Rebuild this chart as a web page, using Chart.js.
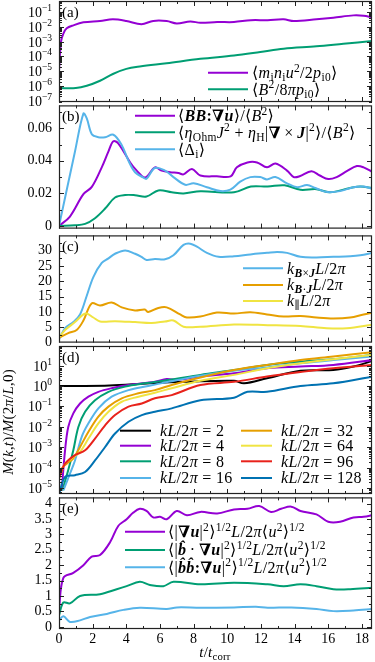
<!DOCTYPE html>
<html><head><meta charset="utf-8">
<script src="https://cdn.jsdelivr.net/npm/chart.js@4.4.1/dist/chart.umd.min.js"></script>
<style>
html,body{margin:0;padding:0;background:#fff}
#wrap{position:relative;width:375px;height:662px;overflow:hidden;background:#fff}
canvas{position:absolute;left:0}
</style>
</head><body><div id="wrap"></div>
<script>
// ================= DATA =================
const timeTicks = [0, 2, 4, 6, 8, 10, 12, 14, 16, 18];

// (a) energies
const kineticEnergy = [[0,1.1e-5],[0.12,1.0e-3],[0.26,3.5e-3],[0.46,7.9e-3],[0.85,1.26e-2],[1.45,2.0e-2],[2.44,2.5e-2],[3.2,3.2e-2],[4.0,2.5e-2],[4.9,1.5e-2],[5.6,2.5e-2],[6.4,2.45e-2],[7.0,1.7e-2],[7.8,2.3e-2],[8.4,1.86e-2],[9.4,2.1e-2],[10.4,2.1e-2],[11.4,2.8e-2],[12.4,2.8e-2],[13.35,3.2e-2],[13.95,2.45e-2],[15.3,3.2e-2],[16.3,4.1e-2],[17.5,5.9e-2],[18.1,5.6e-2],[18.6,4.4e-2]];
const magneticEnergy = [[0,7.4e-7],[1.0,7.4e-7],[1.65,1.05e-6],[2.44,2.3e-6],[3.2,6.6e-6],[4.0,1.45e-5],[4.8,2.1e-5],[6.4,3.5e-5],[8.4,6.9e-5],[10.4,1.17e-4],[11.96,2.0e-4],[13.35,3.3e-4],[15.3,4.8e-4],[16.9,7.2e-4],[18.6,1.1e-3]];

// (b) rates
const stretchingRate = [[0,0],[0.65,0.0058],[1.45,0.0195],[1.95,0.024],[2.54,0.036],[2.94,0.0458],[3.23,0.052],[3.53,0.0506],[4.23,0.039],[4.62,0.034],[5.12,0.0298],[5.7,0.036],[6.1,0.034],[6.6,0.033],[7.1,0.0325],[7.4,0.0317],[7.9,0.035],[8.4,0.031],[9.38,0.0305],[10.2,0.0305],[10.57,0.036],[11.2,0.039],[11.77,0.039],[12.36,0.036],[12.86,0.0383],[13.55,0.034],[13.95,0.030],[14.3,0.0305],[15.0,0.0336],[15.5,0.031],[16.0,0.0288],[16.5,0.030],[17.1,0.0336],[17.7,0.0368],[18.1,0.036],[18.65,0.033]];
const dissipationRate = [[0,0],[0.95,0.0004],[1.55,0.0013],[2.14,0.0048],[2.74,0.0107],[3.33,0.0175],[3.93,0.019],[4.52,0.0189],[5.2,0.0181],[5.9,0.0218],[6.7,0.0207],[7.4,0.020],[8.4,0.0213],[10.4,0.0207],[11.4,0.0242],[12.4,0.0242],[13.4,0.025],[14.35,0.0222],[15.3,0.0226],[16.1,0.0207],[17.3,0.0233],[17.9,0.0242],[18.65,0.0233]];
const anisotropy = [[0,0],[0.95,0.0457],[1.45,0.069],[1.65,0.066],[1.95,0.0563],[2.34,0.0545],[2.74,0.0545],[3.23,0.056],[3.73,0.0496],[4.13,0.040],[4.52,0.033],[5.0,0.0298],[5.2,0.029],[5.7,0.0356],[6.3,0.034],[6.8,0.030],[7.5,0.0253],[8.0,0.0262],[8.79,0.0238],[9.6,0.0214],[10.18,0.0223],[10.77,0.0272],[11.37,0.030],[11.96,0.030],[12.36,0.0286],[12.86,0.030],[13.55,0.0262],[14.15,0.0238],[14.74,0.0251],[15.24,0.0233],[15.93,0.0208],[16.7,0.0214],[17.5,0.0238],[18.1,0.0242],[18.65,0.0227]];

// (c) wavenumbers
const kBxJ = [[0,1.1],[0.36,4.7],[0.85,6.7],[1.25,9.2],[1.65,15.3],[2.04,21.4],[2.54,26],[2.94,27.5],[3.33,29],[3.93,30.1],[4.52,29],[4.9,28],[5.2,27],[5.7,27.3],[6.3,27.2],[6.8,28.5],[7.4,31.9],[7.8,32.3],[8.2,31.3],[8.79,29.3],[9.48,28],[10.4,28.2],[11.37,28.8],[12.36,29.3],[12.96,29.6],[13.55,29.3],[14.35,28],[15.3,27.8],[16.3,28],[17.3,28.2],[17.9,28.5],[18.65,29.3]];
const kBdotJ = [[0,1.6],[0.55,3.1],[1.05,4.1],[1.45,7.2],[1.94,12.8],[2.44,12.1],[3.13,13.1],[3.73,11.5],[4.52,10.5],[5.1,10.8],[5.3,10.0],[5.9,11.3],[6.4,11.5],[7.2,9.2],[7.6,8.2],[8.4,8.5],[9.38,9.8],[10.4,9.5],[11.37,9.9],[12.36,9.2],[13.35,8.5],[14.35,8.7],[15.3,8.2],[16.3,7.9],[17.3,8.2],[18.1,9.2],[18.65,9.8]];
const kParallel = [[0,1.6],[0.36,4.1],[0.95,6.7],[1.45,9.2],[1.65,9.5],[2.04,8.2],[2.44,6.9],[3.33,7.0],[4.52,6.7],[5.5,6.4],[6.3,6.9],[6.8,7.2],[7.4,5.2],[8.4,5.2],[10.4,5.9],[12.4,5.7],[14.35,5.4],[15.9,4.7],[17.1,4.7],[18.65,5.9]];

// (d) normalised magnetic spectrum at fixed k
const mk2 = [[0,1.0],[1,1.0],[3,1.05],[5.4,1.35],[7.6,1.6],[10.4,1.8],[11.0,1.35],[12.36,2.4],[14.35,5.5],[16.3,6.0],[17.5,8.9],[18.65,17]];
const mk4 = [[0.16,7.9e-6],[0.36,7.2e-4],[0.55,1.0e-2],[0.85,4.6e-2],[1.25,0.14],[1.75,0.30],[2.34,0.52],[3.13,0.78],[4.13,1.12],[5.7,1.6],[6.4,2.2],[7.0,2.0],[8.4,2.9],[10.4,4.2],[12.36,7.4],[14.35,8.9],[16.3,10.7],[18.65,18.6]];
const mk8 = [[0.2,7.9e-6],[0.55,7.9e-5],[0.85,7.2e-4],[1.15,1.0e-2],[1.55,5.5e-2],[2.14,0.20],[2.94,0.52],[3.93,0.93],[5.1,1.35],[6.5,1.95],[8.4,3.5],[10.4,6.0],[12.36,10.7],[14.35,15.5],[16.3,20.4],[18.65,33]];
const mk16 = [[0.26,7.9e-6],[0.65,5.2e-5],[0.95,2.3e-4],[1.35,3.3e-3],[1.75,1.5e-2],[2.34,8.1e-2],[3.13,0.30],[4.13,0.63],[5.3,1.0],[6.5,1.6],[8.4,3.2],[10.4,5.6],[12.36,8.1],[14.35,12.9],[16.3,18.6],[18.65,27.5]];
const mk32 = [[0,3e-5],[0.16,9.3e-5],[0.46,1.6e-4],[0.85,2.9e-4],[1.25,1.05e-3],[1.75,5.8e-3],[2.34,3.2e-2],[2.94,9.8e-2],[3.73,0.25],[4.72,0.44],[5.7,0.63],[6.7,1.12],[8.4,2.6],[10.4,6.0],[12.36,10.7],[14.35,18.6],[16.3,27.5],[18.65,45]];
const mk64 = [[0,3e-5],[0.1,5.2e-5],[0.36,1.6e-4],[0.75,2.9e-4],[1.25,6.0e-4],[1.75,2.7e-3],[2.34,1.5e-2],[2.94,5.5e-2],[3.73,0.17],[4.72,0.30],[5.7,0.47],[6.7,0.78],[8.4,1.8],[10.4,3.5],[12.36,7.4],[14.35,12.9],[16.3,20.4],[18.65,33]];
const mk96 = [[0,3e-5],[0.1,5.2e-5],[0.36,1.6e-4],[0.95,4.2e-4],[1.55,7.2e-4],[2.14,2.7e-3],[2.74,1.2e-2],[3.33,3.8e-2],[4.13,9.8e-2],[4.92,0.14],[5.7,0.25],[6.7,0.36],[8.4,1.12],[10.4,1.6],[12.36,2.9],[14.35,4.8],[16.3,7.4],[18.65,10.7]];
const mk128 = [[0,5e-6],[0.36,3.6e-5],[0.95,4.4e-5],[1.55,6.3e-5],[2.14,2.3e-4],[2.74,1.05e-3],[3.33,4.8e-3],[4.13,1.8e-2],[4.92,3.8e-2],[5.7,5.5e-2],[6.7,8.1e-2],[8.4,0.20],[10.4,0.27],[11.2,0.52],[12.36,0.52],[14.35,1.0],[16.3,1.35],[18.65,2.9]];

// (e) gradient measures
const gradU = [[0,0.58],[0.26,1.59],[0.85,1.75],[1.45,2.0],[1.94,2.28],[2.44,2.33],[3.04,2.75],[3.53,3.28],[4.02,3.49],[4.4,3.7],[4.8,3.83],[5.2,3.76],[5.6,3.55],[6.0,3.57],[6.4,3.49],[7.0,3.76],[7.6,3.62],[8.4,3.73],[9.4,3.68],[10.4,3.81],[11.2,3.83],[11.9,3.92],[12.6,3.73],[13.2,3.83],[13.8,3.9],[14.35,3.76],[15.3,3.65],[16.0,3.41],[16.7,3.41],[17.5,3.55],[18.1,3.57],[18.65,3.63]];
const bGradU = [[0,0.37],[0.26,0.79],[0.65,0.76],[1.25,1.0],[2.44,1.06],[3.43,1.22],[4.02,1.32],[4.8,1.46],[5.4,1.36],[6.2,1.32],[6.8,1.46],[8.4,1.38],[10.4,1.43],[12.4,1.38],[13.35,1.32],[14.35,1.38],[15.3,1.32],[16.3,1.22],[17.3,1.22],[18.65,1.27]];
const bbGradU = [[0,0.21],[0.26,0.34],[0.65,0.16],[1.25,0.21],[1.85,0.32],[2.84,0.42],[3.83,0.55],[4.8,0.62],[6.4,0.58],[7.0,0.63],[8.4,0.62],[10.4,0.63],[11.7,0.65],[12.4,0.62],[13.8,0.63],[15.3,0.58],[16.3,0.51],[17.5,0.53],[18.65,0.58]];

// tick labels
const yLabelsB = [0, 0.02, 0.04, 0.06];
const yLabelsC = [0, 5, 10, 15, 20, 25, 30];
const yLabelsE = [0, 0.5, 1, 1.5, 2, 2.5, 3, 3.5, 4];
const decadesA = [-7, -6, -5, -4, -3, -2, -1];
const decadesD = [-5, -4, -3, -2, -1, 0, 1];

// legend texts (@r{} roman, @bi{} bold italic, @bf{} bold upright)
const legendA = ['⟨m_{@r{i}}n_{@r{i}}u^{2}/2p_{@r{i0}}⟩', '⟨B^{2}/8πp_{@r{i0}}⟩'];
const legendB = ['⟨@bi{BB}@bf{:}@bf{∇}@bi{u}⟩/⟨B^{2}⟩', '⟨η_{@r{Ohm}}J^{2} + η_{@r{H}}|@bf{∇}\u2009×\u2009@bi{J}|^{2}⟩/⟨B^{2}⟩', '⟨Δ_{@r{i}}⟩'];
const legendC = ['k_{@bi{B}×@bi{J}}L/2π', 'k_{@bi{B}·@bi{J}}L/2π', 'k_{∥}L/2π'];
const legendD = ['kL/2π = 2', 'kL/2π = 4', 'kL/2π = 8', 'kL/2π = 16', 'kL/2π = 32', 'kL/2π = 64', 'kL/2π = 96', 'kL/2π = 128'];
const legendE = ['⟨|@bf{∇}@bi{u}|^{2}⟩^{1/2}L/2π⟨u^{2}⟩^{1/2}', '⟨|@bi{b̂}\u2009·\u2009@bf{∇}@bi{u}|^{2}⟩^{1/2}L/2π⟨u^{2}⟩^{1/2}', '⟨|@bi{b̂b̂}@bf{:}@bf{∇}@bi{u}|^{2}⟩^{1/2}L/2π⟨u^{2}⟩^{1/2}'];

// ================= RENDERING =================
const SERIF = "'Liberation Serif','DejaVu Serif',serif";
const C = {purple:'#9400d3', green:'#009e73', cyan:'#56b4e9', orange:'#e69f00', yellow:'#f0e442', red:'#e8221b', blue:'#0072b2', black:'#000000'};
const LEG_SIZE = 16;

function parseRich(str, size) {
  const out = [];
  function grp(s, i) {
    if (s[i] === '{') { let d = 1, j = i + 1; while (d > 0 && j < s.length) { if (s[j] === '{') d++; else if (s[j] === '}') d--; j++; } return [s.slice(i + 1, j - 1), j]; }
    return [s[i], i + 1];
  }
  function rec(s, st) {
    let i = 0;
    while (i < s.length) {
      const c = s[i];
      if (c === '_' || c === '^') {
        const [g, ni] = grp(s, i + 1);
        rec(g, {...st, size: st.size * 0.72, dy: st.dy + (c === '^' ? -0.38 * st.size : 0.2 * st.size)});
        i = ni;
      } else if (c === '@') {
        let j = i + 1; while (j < s.length && /[a-z]/.test(s[j])) j++;
        const cmd = s.slice(i + 1, j);
        const [g, ni] = grp(s, j);
        rec(g, {...st, style: cmd});
        i = ni;
      } else { out.push({c, ...st}); i++; }
    }
  }
  rec(str, {size, dy: 0, style: 'm'});
  return out;
}
function fontFor(ch) {
  const letter = /[A-Za-zα-ω\u0302]/.test(ch.c);
  let s = '', w = '';
  if (ch.style === 'm' && letter) s = 'italic ';
  if (ch.style === 'bi') { w = 'bold '; if (letter) s = 'italic '; }
  if (ch.style === 'bf') w = 'bold ';
  return s + w + ch.size.toFixed(2) + 'px ' + SERIF;
}
function drawRich(ctx, str, x, y, size, align, spacing) {
  const chars = parseRich(str, size);
  const runs = [];
  for (const ch of chars) {
    const f = fontFor(ch);
    const last = runs[runs.length - 1];
    if (last && last.f === f && last.dy === ch.dy) last.t += ch.c; else runs.push({t: ch.c, f, dy: ch.dy});
  }
  ctx.letterSpacing = (spacing || 0) + 'px';
  let w = 0;
  for (const r of runs) { ctx.font = r.f; r.w = ctx.measureText(r.t).width; w += r.w; }
  let cx = align === 'right' ? x - w : align === 'center' ? x - w / 2 : x;
  ctx.textAlign = 'left'; ctx.textBaseline = 'alphabetic'; ctx.fillStyle = '#000';
  for (const r of runs) { ctx.font = r.f; ctx.fillText(r.t, cx, y + r.dy); cx += r.w; }
  ctx.letterSpacing = '0px';
  return w;
}

function makeDecor(p, top0) {
  return {
    id: 'decor' + p.name,
    afterDatasetsDraw(chart) {
      const ctx = chart.ctx, ca = chart.chartArea, xs = chart.scales.x, ys = chart.scales.y;
      ctx.save();
      ctx.strokeStyle = '#222'; ctx.lineWidth = 1;
      ctx.beginPath();
      for (let v = 0; v <= 18; v++) {
        const px = Math.round(xs.getPixelForValue(v)) + 0.5;
        const len = v % 2 === 0 ? 5 : 3;
        ctx.moveTo(px, ca.bottom); ctx.lineTo(px, ca.bottom - len);
        ctx.moveTo(px, ca.top); ctx.lineTo(px, ca.top + len);
      }
      const yt = (v, len) => {
        const py = Math.round(ys.getPixelForValue(v)) + 0.5;
        if (py < ca.top - 0.1 || py > ca.bottom + 0.6) return;
        ctx.moveTo(ca.left, py); ctx.lineTo(ca.left + len, py);
        ctx.moveTo(ca.right, py); ctx.lineTo(ca.right - len, py);
      };
      p.yMajor.forEach(v => yt(v, 5));
      p.yMinor.forEach(v => yt(v, 3));
      ctx.stroke();
      ctx.strokeStyle = '#222'; ctx.lineWidth = 1.2;
      ctx.strokeRect(ca.left + 0.5, ca.top + 0.5, ca.right - ca.left - 1, ca.bottom - ca.top - 1);
      if (p.decades) {
        for (const e of p.decades) {
          const py = ys.getPixelForValue(Math.pow(10, e));
          const sup = (e < 0 ? '\u2212' : '') + Math.abs(e);
          ctx.font = '9.5px ' + SERIF; const sw = ctx.measureText(sup).width;
          ctx.font = '14px ' + SERIF; const bw = ctx.measureText('10').width;
          const xr = 52;
          ctx.fillStyle = '#000'; ctx.textAlign = 'left'; ctx.textBaseline = 'alphabetic';
          ctx.fillText('10', xr - sw - bw, py + 5);
          ctx.font = '9.5px ' + SERIF;
          ctx.fillText(sup, xr - sw, py - 1);
        }
      }
      ctx.fillStyle = '#000'; ctx.font = '15px ' + SERIF; ctx.textAlign = 'left'; ctx.textBaseline = 'alphabetic';
      ctx.fillText('(' + p.name + ')', ca.left + 3, ca.top + 16);
      p.series.forEach((s, i) => {
        const L = p.legend[i]; if (!L) return;
        const y = L[3] - top0;
        ctx.strokeStyle = s.color; ctx.lineWidth = 2;
        ctx.beginPath(); ctx.moveTo(L[0], y); ctx.lineTo(L[1], y); ctx.stroke();
        drawRich(ctx, s.label, L[2], y + 5.2, LEG_SIZE, 'left', 0.3);
      });
      if (p.ytitle) {
        ctx.save();
        ctx.translate(p.ytitle[1], p.ytitle[2] - top0);
        ctx.rotate(-Math.PI / 2);
        drawRich(ctx, p.ytitle[0], 0, 0, 15, 'center', 0.2);
        ctx.restore();
      }
      if (p.xtitle) drawRich(ctx, p.xtitle[0], p.xtitle[1], p.xtitle[2] - top0, 15, 'center', 0.2);
      ctx.restore();
    }
  };
}

function logMinor(lo, hi) {
  const out = [];
  for (let e = lo; e <= hi; e++) for (let m = 2; m <= 9; m++) out.push(m * Math.pow(10, e));
  return out;
}

const panels = [
  {name:'a', top:1, bottom:102, log:true, min:8.5e-8, max:0.55, decades:decadesA,
   yMajor:decadesA.map(e => Math.pow(10, e)), yMinor:logMinor(-8, -1),
   series:[{label:legendA[0], color:C.purple, data:kineticEnergy},{label:legendA[1], color:C.green, data:magneticEnergy}],
   legend:[[208,248,252,72.7],[208,248,252,89.3]]},
  {name:'b', top:102, bottom:232, log:false, min:-0.0016, max:0.074, labels:yLabelsB,
   yMajor:yLabelsB, yMinor:[0.01,0.03,0.05,0.07],
   series:[{label:legendB[0], color:C.purple, data:stretchingRate},{label:legendB[1], color:C.green, data:dissipationRate},{label:legendB[2], color:C.cyan, data:anisotropy}],
   legend:[[135,175,178,115.7],[135,175,178,132.3],[135,175,178,149.3]]},
  {name:'c', top:232, bottom:346, log:false, min:0, max:35, labels:yLabelsC,
   yMajor:yLabelsC, yMinor:[2.5,7.5,12.5,17.5,22.5,27.5,32.5],
   series:[{label:legendC[0], color:C.cyan, data:kBxJ},{label:legendC[1], color:C.orange, data:kBdotJ},{label:legendC[2], color:C.yellow, data:kParallel}],
   legend:[[243,283,287,268.3],[243,283,287,285],[243,283,287,301]]},
  {name:'d', top:346, bottom:494, log:true, min:5.3e-6, max:90, decades:decadesD,
   yMajor:decadesD.map(e => Math.pow(10, e)), yMinor:logMinor(-6, 1),
   series:[
     {label:legendD[0], color:C.black, data:mk2},{label:legendD[1], color:C.purple, data:mk4},
     {label:legendD[2], color:C.green, data:mk8},{label:legendD[3], color:C.cyan, data:mk16},
     {label:legendD[4], color:C.orange, data:mk32},{label:legendD[5], color:C.yellow, data:mk64},
     {label:legendD[6], color:C.red, data:mk96},{label:legendD[7], color:C.blue, data:mk128}],
   legend:[[120,151,160,430.7],[120,151,160,445.7],[120,151,160,461.3],[120,151,160,478],
           [241,272,281,430.7],[241,272,281,445.7],[241,272,281,461.3],[241,272,281,478]],
   ytitle:['M(k,t)/M(2π/L,0)', 13, 422]},
  {name:'e', top:494, bottom:629, log:false, min:-0.07, max:4.2, labels:yLabelsE, last:true,
   yMajor:yLabelsE, yMinor:[0.25,0.75,1.25,1.75,2.25,2.75,3.25,3.75],
   series:[{label:legendE[0], color:C.purple, data:gradU},{label:legendE[1], color:C.green, data:bGradU},{label:legendE[2], color:C.cyan, data:bbGradU}],
   legend:[[125,165,168,531.7],[125,165,168,550],[125,165,168,567.3]],
   xtitle:['t/t_{@r{corr}}', 215, 657]}
];

const wrap = document.getElementById('wrap');
panels.forEach(p => {
  const padT = 12, padB = p.last ? 0 : 12;
  const top0 = p.top - padT;
  const h = p.last ? 662 - top0 : (p.bottom - p.top) + padT + padB;
  const cv = document.createElement('canvas');
  cv.width = 375; cv.height = h; cv.style.top = top0 + 'px'; cv.style.width = '375px'; cv.style.height = h + 'px';
  wrap.appendChild(cv);
  const n = p.series.length;
  new Chart(cv, {
    type: 'line',
    data: {datasets: p.series.map((s, i) => ({
      label: s.label, data: s.data.map(([x, y]) => ({x, y})),
      borderColor: s.color, backgroundColor: s.color, borderWidth: 2, pointRadius: 0,
      tension: 0.35, fill: false, order: n - i
    }))},
    options: {
      responsive: false, animation: false, devicePixelRatio: 1, events: [],
      layout: {padding: {top: padT, bottom: padB, left: 0, right: 3}},
      plugins: {legend: {display: false}, tooltip: {enabled: false}},
      scales: {
        x: {type: 'linear', min: 0, max: 18.6, display: !!p.last,
            grid: {display: false, drawTicks: false}, border: {display: false},
            afterBuildTicks: s => { s.ticks = timeTicks.map(v => ({value: v})); },
            afterFit: s => { s.height = p.last ? 662 - p.bottom : 0; },
            ticks: {font: {family: SERIF, size: 14}, color: '#000', padding: 2, maxRotation: 0, autoSkip: false, callback: v => String(v)}},
        y: {type: p.log ? 'logarithmic' : 'linear', min: p.min, max: p.max,
            grid: {display: false, drawTicks: false}, border: {display: false},
            afterFit: s => { s.width = 59; },
            afterBuildTicks: s => { s.ticks = (p.log ? p.yMajor : p.labels).map(v => ({value: v})); },
            ticks: {display: !p.log, font: {family: SERIF, size: 14}, color: '#000', padding: 7, autoSkip: false, callback: v => String(v)}}
      }
    },
    plugins: [makeDecor(p, top0)]
  });
});
</script>
</body></html>
